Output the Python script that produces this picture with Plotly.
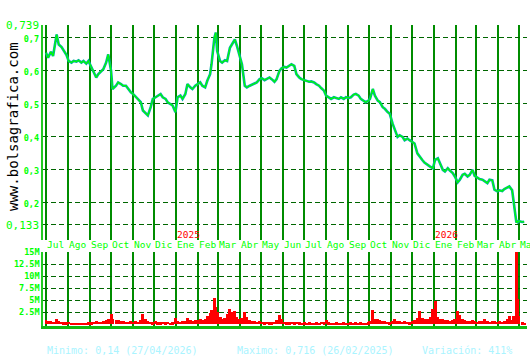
import plotly.graph_objects as go

# ---------------- data ----------------
dates = [
    "2024-07-01", "2024-07-04", "2024-07-08", "2024-07-11", "2024-07-16", "2024-07-19", "2024-07-23", "2024-07-26", "2024-07-30",
    "2024-08-02", "2024-08-06", "2024-08-09", "2024-08-13", "2024-08-16", "2024-08-20", "2024-08-23", "2024-08-27", "2024-08-30",
    "2024-09-03", "2024-09-06", "2024-09-10", "2024-09-13", "2024-09-17", "2024-09-20", "2024-09-24", "2024-09-27",
    "2024-10-01", "2024-10-03", "2024-10-08", "2024-10-11", "2024-10-15", "2024-10-18", "2024-10-22", "2024-10-25", "2024-10-29",
    "2024-11-01", "2024-11-05", "2024-11-08", "2024-11-12", "2024-11-15", "2024-11-19", "2024-11-22", "2024-11-26", "2024-11-29",
    "2024-12-03", "2024-12-06", "2024-12-10", "2024-12-13", "2024-12-17", "2024-12-20", "2024-12-24", "2024-12-27", "2024-12-31",
    "2025-01-03", "2025-01-07", "2025-01-10", "2025-01-14", "2025-01-17", "2025-01-21", "2025-01-24", "2025-01-28", "2025-01-31",
    "2025-02-04", "2025-02-07", "2025-02-11", "2025-02-14", "2025-02-18", "2025-02-20", "2025-02-24", "2025-02-26", "2025-02-28",
    "2025-03-04", "2025-03-07", "2025-03-11", "2025-03-14", "2025-03-18", "2025-03-21", "2025-03-25", "2025-03-28",
    "2025-04-01", "2025-04-04", "2025-04-08", "2025-04-11", "2025-04-15", "2025-04-18", "2025-04-22", "2025-04-25", "2025-04-29",
    "2025-05-02", "2025-05-06", "2025-05-09", "2025-05-13", "2025-05-16", "2025-05-20", "2025-05-23", "2025-05-27", "2025-05-30",
    "2025-06-03", "2025-06-06", "2025-06-10", "2025-06-13", "2025-06-17", "2025-06-20", "2025-06-24", "2025-06-27",
    "2025-07-01", "2025-07-04", "2025-07-08", "2025-07-11", "2025-07-15", "2025-07-18", "2025-07-22", "2025-07-25", "2025-07-29",
    "2025-08-01", "2025-08-05", "2025-08-08", "2025-08-12", "2025-08-15", "2025-08-19", "2025-08-22", "2025-08-26", "2025-08-29",
    "2025-09-02", "2025-09-05", "2025-09-09", "2025-09-12", "2025-09-16", "2025-09-19", "2025-09-23", "2025-09-26", "2025-09-30",
    "2025-10-02", "2025-10-06", "2025-10-09", "2025-10-13", "2025-10-16", "2025-10-20", "2025-10-23", "2025-10-27", "2025-10-30",
    "2025-11-03", "2025-11-06", "2025-11-10", "2025-11-13", "2025-11-17", "2025-11-20", "2025-11-24", "2025-11-27",
    "2025-12-01", "2025-12-04", "2025-12-08", "2025-12-11", "2025-12-15", "2025-12-18", "2025-12-22", "2025-12-26", "2025-12-30",
    "2026-01-02", "2026-01-06", "2026-01-09", "2026-01-13", "2026-01-16", "2026-01-20", "2026-01-23", "2026-01-27", "2026-01-30",
    "2026-02-03", "2026-02-06", "2026-02-10", "2026-02-13", "2026-02-17", "2026-02-20", "2026-02-24", "2026-02-27",
    "2026-03-03", "2026-03-06", "2026-03-10", "2026-03-13", "2026-03-17", "2026-03-20", "2026-03-24", "2026-03-27", "2026-03-31",
    "2026-04-03", "2026-04-07", "2026-04-10", "2026-04-14", "2026-04-17", "2026-04-21", "2026-04-23", "2026-04-27", "2026-04-28", "2026-04-29", "2026-04-30",
    "2026-05-05", "2026-05-08",
]

close = [
    0.655, 0.640, 0.658, 0.645, 0.710, 0.680, 0.672, 0.660, 0.648,
    0.630, 0.625, 0.630, 0.628, 0.632, 0.625, 0.630, 0.622, 0.630,
    0.612, 0.600, 0.580, 0.590, 0.600, 0.605, 0.625, 0.650,
    0.600, 0.545, 0.555, 0.565, 0.560, 0.555, 0.555, 0.545, 0.535,
    0.530, 0.520, 0.515, 0.505, 0.480, 0.470, 0.465, 0.490, 0.515,
    0.520, 0.525, 0.530, 0.520, 0.515, 0.505, 0.500, 0.495, 0.475,
    0.520, 0.525, 0.515, 0.530, 0.560, 0.550, 0.545, 0.555, 0.560,
    0.565, 0.555, 0.550, 0.570, 0.590, 0.620, 0.700, 0.716, 0.660,
    0.630, 0.625, 0.632, 0.630, 0.670, 0.682, 0.695, 0.675,
    0.645, 0.620, 0.555, 0.550, 0.555, 0.558, 0.562, 0.565, 0.575,
    0.578, 0.572, 0.575, 0.580, 0.575, 0.567, 0.575, 0.600, 0.608,
    0.612, 0.610, 0.615, 0.620, 0.615, 0.590, 0.580, 0.575,
    0.572, 0.570, 0.567, 0.568, 0.565, 0.560, 0.555, 0.548, 0.540,
    0.525, 0.518, 0.515, 0.520, 0.518, 0.515, 0.520, 0.515, 0.520,
    0.518, 0.520, 0.528, 0.530, 0.525, 0.515, 0.510, 0.505, 0.510,
    0.515, 0.545, 0.525, 0.510, 0.505, 0.490, 0.485, 0.475, 0.470,
    0.440, 0.420, 0.400, 0.405, 0.400, 0.390, 0.395, 0.390,
    0.385, 0.380, 0.350, 0.340, 0.330, 0.322, 0.315, 0.310, 0.305,
    0.330, 0.335, 0.322, 0.300, 0.295, 0.305, 0.298, 0.290, 0.280,
    0.262, 0.270, 0.285, 0.288, 0.280, 0.285, 0.300, 0.282,
    0.275, 0.272, 0.270, 0.265, 0.260, 0.270, 0.268, 0.240, 0.235,
    0.238, 0.236, 0.242, 0.248, 0.250, 0.238, 0.200, 0.140, 0.145, 0.142, 0.145,
    0.142, 0.143,
]

volume_m = [
    0.9, 0.7, 0.6, 0.5, 1.2, 0.6, 0.5, 0.4, 0.4,
    0.5, 0.3, 0.3, 0.2, 0.3, 0.2, 0.3, 0.3, 0.4,
    0.4, 0.5, 0.6, 0.5, 0.5, 0.7, 0.8, 1.0,
    2.1, 1.2, 0.9, 0.8, 0.7, 0.6, 0.5, 0.5, 0.6,
    0.5, 0.6, 0.5, 0.9, 2.2, 1.0, 0.6, 0.5, 0.4,
    0.6, 0.4, 0.4, 0.5, 0.4, 0.5, 0.3, 0.4, 1.3,
    0.6, 0.5, 0.6, 0.7, 1.4, 0.8, 0.7, 0.8, 0.9,
    1.1, 0.9, 1.0, 1.8, 2.4, 3.0, 5.4, 3.5, 2.6,
    1.5, 1.2, 1.4, 2.1, 3.2, 2.6, 2.8, 1.5,
    1.0, 1.4, 2.6, 1.6, 0.8, 0.7, 0.6, 0.5, 0.6,
    0.5, 0.4, 0.5, 0.4, 0.4, 0.5, 0.9, 1.9, 1.2,
    0.5, 0.4, 0.4, 0.5, 0.4, 0.5, 0.4, 0.3,
    0.4, 0.3, 0.4, 0.3, 0.3, 0.4, 0.3, 0.5, 0.4,
    0.8, 0.4, 0.3, 0.3, 0.4, 0.3, 0.3, 0.4, 0.3,
    0.3, 0.4, 0.3, 0.4, 0.3, 0.4, 0.3, 0.3, 0.4,
    0.6, 2.9, 1.2, 1.0, 0.8, 0.7, 0.6, 0.5, 0.4,
    0.6, 1.0, 0.7, 0.6, 0.5, 0.6, 0.5, 0.4,
    0.6, 0.8, 1.4, 2.7, 1.3, 1.1, 1.0, 1.6, 3.1,
    4.8, 1.6, 1.2, 1.0, 0.8, 0.9, 0.7, 0.8, 1.2,
    2.7, 2.0, 1.2, 0.9, 0.7, 0.6, 0.9, 0.6,
    0.5, 0.6, 0.7, 1.2, 0.6, 0.5, 0.6, 0.7, 0.5,
    0.6, 0.5, 0.7, 1.0, 1.7, 0.9, 1.8, 15.4, 5.2, 2.7, 1.8,
    0.4, 0.3,
]

month_starts = ["2024-07-01", "2024-08-01", "2024-09-01", "2024-10-01", "2024-11-01", "2024-12-01",
                "2025-01-01", "2025-02-01", "2025-03-01", "2025-04-01", "2025-05-01", "2025-06-01",
                "2025-07-01", "2025-08-01", "2025-09-01", "2025-10-01", "2025-11-01", "2025-12-01",
                "2026-01-01", "2026-02-01", "2026-03-01", "2026-04-01", "2026-05-01"]
month_labels = ["Jul", "Ago", "Sep", "Oct", "Nov", "Dic", "Ene", "Feb", "Mar", "Abr", "May", "Jun",
                "Jul", "Ago", "Sep", "Oct", "Nov", "Dic", "Ene", "Feb", "Mar", "Abr", "Ma"]
year_starts = ["2025-01-01", "2026-01-01"]
year_labels = ["2025", "2026"]

price_ticks = [0.133, 0.2, 0.3, 0.4, 0.5, 0.6, 0.7, 0.739]
price_tick_text = ["0,133", "0,2", "0,3", "0,4", "0,5", "0,6", "0,7", "0,739"]
vol_ticks = [2.5, 5, 7.5, 10, 12.5, 15]
vol_tick_text = ["2.5M", "5M", "7.5M", "10M", "12.5M", "15M"]

footer_min = "Minimo: 0,14 (27/04/2026)"
footer_max = "Maximo: 0,716 (26/02/2025)"
footer_var = "Variación: 411%"
site = "www.bolsagrafica.com"

assert len(dates) == len(close) == len(volume_m)

# ---------------- styles ----------------
MONO = "DejaVu Sans Mono"
LIME = "#00ff00"
VGRID = "#008c00"
HGRID = "#006600"
TEAL = "#00aaaa"

# plot area in pixels: x 43..527, y 25..326
PL, PR, PT, PB = 43, 527, 25, 326
PW, PH = PR - PL, PB - PT

def px_x(x):
    return (x - PL) / PW

def px_y(y):
    return (PB - y) / PH

fig = go.Figure()

fig.add_trace(go.Scatter(x=dates, y=close, mode="lines", line=dict(color=TEAL, width=2.6),
                         xaxis="x", yaxis="y", hoverinfo="skip"))
fig.add_trace(go.Scatter(x=dates, y=close, mode="lines", line=dict(color=LIME, width=1.2),
                         xaxis="x", yaxis="y"))
fig.add_trace(go.Bar(x=dates, y=volume_m, marker=dict(color="#ff0000", line=dict(width=0)),
                     width=4.2 * 86400000, xaxis="x2", yaxis="y2"))

xrange = ["2024-06-26 18:00", "2026-05-12"]

def ticktext_fmt(vals, texts):
    out = []
    for v, t in zip(vals, texts):
        if v in (0.133, 0.739):
            out.append(t)
        else:
            out.append("<b><span style='font-size:8.5px'>%s</span></b>" % t)
    return out

fig.update_layout(
    width=530, height=360,
    margin=dict(l=PL, r=530 - PR, t=PT, b=360 - PB),
    paper_bgcolor="white", plot_bgcolor="white",
    showlegend=False, bargap=0,
    xaxis=dict(type="date", range=xrange, domain=[0, 1], anchor="y",
               tick0="2024-07-01", dtick="M1", showgrid=True, gridcolor=VGRID, gridwidth=1.6,
               showticklabels=False, ticks="", zeroline=False, showline=False),
    yaxis=dict(range=[0.0875, 0.739], domain=[px_y(240), 1.0], anchor="x",
               tickvals=price_ticks, ticktext=ticktext_fmt(price_ticks, price_tick_text),
               tickfont=dict(family=MONO, size=11, color=LIME),
               showgrid=True, gridcolor=HGRID, gridwidth=1.3, griddash="5px,3px",
               ticks="", ticklen=0, zeroline=False,
               showline=True, linecolor="#22cc22", linewidth=1.5),
    xaxis2=dict(type="date", range=xrange, domain=[0, 1], anchor="y2", matches="x",
                tick0="2024-07-01", dtick="M1", showgrid=True, gridcolor=VGRID, gridwidth=1.6,
                showticklabels=False, ticks="", zeroline=False,
                showline=True, linecolor="#11bb11", linewidth=2.5),
    yaxis2=dict(range=[-0.35, 15.0], domain=[0, px_y(252)], anchor="x2",
                tickvals=vol_ticks, ticktext=["<b>%s</b>" % t for t in vol_tick_text],
                tickfont=dict(family=MONO, size=8.5, color=LIME),
                showgrid=True, gridcolor=HGRID, gridwidth=1.3, griddash="5px,3px",
                ticks="", zeroline=False,
                showline=True, linecolor="#22cc22", linewidth=1.5),
)

annotations = []
for d, lab in zip(month_starts, month_labels):
    annotations.append(dict(x=d, y=0.0875, xref="x", yref="y", text=lab, showarrow=False,
                            xanchor="left", yanchor="top", xshift=-1, yshift=3,
                            font=dict(family=MONO, size=9.5, color=LIME)))
for d, lab in zip(year_starts, year_labels):
    annotations.append(dict(x=d, y=0.0875, xref="x", yref="y", text=lab, showarrow=False,
                            xanchor="left", yanchor="bottom", xshift=-1, yshift=-2,
                            font=dict(family=MONO, size=9.5, color="#ff0000")))
annotations.append(dict(x=px_x(13), y=px_y(127), xref="paper", yref="paper", text=site, showarrow=False,
                        textangle=-90, xanchor="center", yanchor="middle",
                        font=dict(family=MONO, size=14, color="#000000")))
for xp, txt in [(45, footer_min), (235, footer_max), (420, footer_var)]:
    annotations.append(dict(x=px_x(xp), y=px_y(350), xref="paper", yref="paper", text=txt,
                            showarrow=False, xanchor="left", yanchor="middle",
                            font=dict(family=MONO, size=10, color="#aaf4ff")))
fig.update_layout(annotations=annotations)

fig.write_html("out.html")
